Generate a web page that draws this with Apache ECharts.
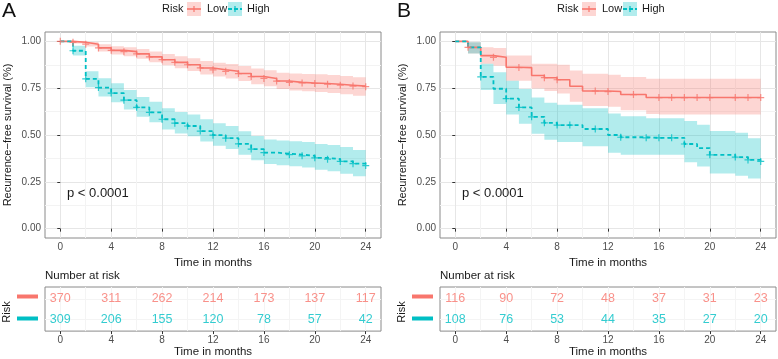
<!DOCTYPE html>
<html>
<head>
<meta charset="utf-8">
<script src="https://cdn.jsdelivr.net/npm/echarts@6/dist/echarts.min.js"></script>
<style>
html,body{margin:0;padding:0;background:#fff}
#main{width:778px;height:359px}
</style>
</head>
<body>
<div id="main"></div>
<script>
// ---- data ----
const months = [0,1,2,3,4,5,6,7,8,9,10,11,12,13,14,15,16,17,18,19,20,21,22,23,24];

// panel A
const lowSurvA  = [1,0.995,0.985,0.965,0.952,0.945,0.933,0.917,0.902,0.888,0.875,0.858,0.848,0.840,0.828,0.812,0.802,0.788,0.781,0.778,0.775,0.771,0.766,0.761,0.758];
const lowLowerA = [1,0.988,0.972,0.946,0.930,0.921,0.907,0.889,0.872,0.856,0.842,0.823,0.812,0.802,0.789,0.771,0.760,0.745,0.737,0.733,0.729,0.724,0.718,0.710,0.705];
const lowUpperA = [1,1.000,0.997,0.984,0.974,0.969,0.959,0.946,0.933,0.921,0.910,0.895,0.886,0.879,0.869,0.855,0.846,0.833,0.828,0.826,0.824,0.820,0.815,0.808,0.805];
const highSurvA  = [1,0.950,0.800,0.753,0.724,0.686,0.648,0.621,0.584,0.563,0.548,0.521,0.499,0.483,0.453,0.425,0.406,0.400,0.395,0.389,0.378,0.371,0.359,0.347,0.337];
const highLowerA = [1,0.925,0.755,0.706,0.675,0.636,0.597,0.568,0.530,0.508,0.493,0.465,0.442,0.425,0.394,0.365,0.345,0.338,0.333,0.326,0.314,0.306,0.293,0.280,0.274];
const highUpperA = [1,0.976,0.840,0.803,0.776,0.740,0.703,0.678,0.643,0.623,0.609,0.584,0.563,0.548,0.520,0.494,0.476,0.471,0.467,0.462,0.452,0.446,0.436,0.420,0.405];
const censorLowA  = [0,1,2,3,4,5,6,7,8,9,10,11,12,13,14,15,16,17,18,19,20,21,22,23,24];
const censorHighA = [1,2,3,4,5,6,7,8,9,10,11,12,13,14,15,16,18,19,20,21,22,23,24];

// panel B
const lowSurvB  = [1,0.968,0.924,0.915,0.862,0.860,0.818,0.806,0.795,0.760,0.735,0.735,0.732,0.716,0.716,0.700,0.700,0.700,0.700,0.700,0.700,0.700,0.700,0.700,0.700];
const lowLowerB = [1,0.935,0.880,0.870,0.790,0.790,0.748,0.735,0.722,0.677,0.655,0.655,0.651,0.632,0.632,0.612,0.610,0.610,0.610,0.610,0.610,0.610,0.610,0.610,0.610];
const lowUpperB = [1,0.995,0.968,0.965,0.924,0.924,0.880,0.880,0.875,0.845,0.827,0.827,0.822,0.810,0.810,0.800,0.800,0.800,0.800,0.800,0.800,0.800,0.800,0.800,0.800];
const highSurvB  = [1,0.968,0.810,0.747,0.694,0.647,0.597,0.565,0.553,0.553,0.532,0.532,0.500,0.488,0.488,0.485,0.485,0.485,0.452,0.430,0.394,0.394,0.382,0.367,0.359];
const highLowerB = [1,0.935,0.740,0.665,0.610,0.560,0.507,0.475,0.462,0.462,0.440,0.440,0.405,0.394,0.394,0.394,0.394,0.394,0.355,0.332,0.295,0.295,0.283,0.268,0.268];
const highUpperB = [1,0.995,0.880,0.835,0.790,0.745,0.700,0.672,0.662,0.662,0.643,0.643,0.615,0.600,0.600,0.590,0.590,0.590,0.575,0.555,0.522,0.522,0.512,0.482,0.482];
const censorLowB  = [1,3,5,7,8,11,12,14,16,17,18,19,20,22,23,24];
const censorHighB = [2,4,5,6,7,8,9,11,13,15,16,17,18,20,22,23,24];

// number at risk
const riskTimes  = [0,4,8,12,16,20,24];
const riskLowA   = [370,311,262,214,173,137,117];
const riskHighA  = [309,206,155,120,78,57,42];
const riskLowB   = [116,90,72,48,37,31,23];
const riskHighB  = [108,76,53,44,35,27,20];

const xMajor = [0,4,8,12,16,20,24];
const xMinor = [2,6,10,14,18,22];
const yMajor = [0,0.25,0.5,0.75,1];
const yMinor = [0.125,0.375,0.625,0.875];

// ---- styles ----
const RED = '#F8766D', CYAN = '#00BFC4';
const RED_FILL = 'rgba(248,118,109,0.3)', CYAN_FILL = 'rgba(0,191,196,0.3)';
const FONT = '"Liberation Sans", Arial, sans-serif';
const PLUS = 'path://M0,2.9h7v1.2h-7z M2.9,0h1.2v7h-1.2z';

const grids = [], xAxes = [], yAxes = [], series = [], graphics = [];

function stepData(surv) {
  return months.map((t, i) => [t, surv[i]]);
}
function bandRows(lo, hi) {
  return months.slice(0, -1).map((t, i) => [t, months[i + 1], lo[i], hi[i]]);
}
function censorData(times, surv) {
  return times.map(t => [t, surv[months.indexOf(t)]]);
}

function bandSeries(xi, yi, rows, color) {
  return {
    type: 'custom', xAxisIndex: xi, yAxisIndex: yi, silent: true, z: 1,
    data: rows, encode: {x: [0, 1], y: [2, 3]},
    renderItem: function (params, api) {
      if (params.dataIndex !== 0) return null;
      const top = [], bot = [];
      rows.forEach(r => {
        top.push(api.coord([r[0], r[3]]), api.coord([r[1], r[3]]));
        bot.push(api.coord([r[0], r[2]]), api.coord([r[1], r[2]]));
      });
      return {type: 'polygon', shape: {points: top.concat(bot.reverse())}, style: {fill: color}};
    }
  };
}

function xAxisMain(gi, isMinor, name, nameGap, faint) {
  return {
    type: 'value', gridIndex: gi, min: -1.2, max: 25.2,
    name: isMinor ? '' : name, nameLocation: 'middle', nameGap: nameGap,
    nameTextStyle: {fontSize: 11.5, color: '#1a1a1a', fontFamily: FONT},
    axisLine: {show: false},
    axisTick: {show: !isMinor, customValues: isMinor ? xMinor : xMajor, length: 3, lineStyle: {color: '#333'}},
    axisLabel: {show: !isMinor, customValues: xMajor, margin: 4, fontSize: 10, color: '#4d4d4d', fontFamily: FONT},
    splitLine: {show: true, lineStyle: {color: faint ? '#f4f4f4' : (isMinor ? '#f3f3f3' : '#e6e6e6'), width: 1}}
  };
}

function addPanel(p) {
  const g0 = grids.length;
  grids.push({left: p.left, top: 32, width: 336, height: 206, show: true, borderColor: '#8a8a8a', borderWidth: 1, backgroundColor: 'transparent'});
  grids.push({left: p.left, top: 287, width: 336, height: 49, show: true, borderColor: '#8a8a8a', borderWidth: 1, backgroundColor: 'transparent'});

  const xi = xAxes.length;
  xAxes.push(xAxisMain(g0, false, 'Time in months', 11));
  xAxes.push(xAxisMain(g0, true));
  xAxes.push(xAxisMain(g0 + 1, false, 'Time in months', 10, true));
  xAxes.push(xAxisMain(g0 + 1, true, '', 0, true));

  const yi = yAxes.length;
  yAxes.push({
    type: 'value', gridIndex: g0, min: -0.05, max: 1.05,
    name: 'Recurrence\u2212free survival (%)', nameLocation: 'middle', nameGap: 32,
    nameTextStyle: {fontSize: 11, color: '#1a1a1a', fontFamily: FONT},
    axisLine: {show: false},
    axisTick: {show: true, customValues: yMajor, length: 3, lineStyle: {color: '#333'}},
    axisLabel: {customValues: yMajor, margin: 4, fontSize: 10, color: '#4d4d4d', fontFamily: FONT,
      formatter: v => v.toFixed(2)},
    splitLine: {show: true, lineStyle: {color: '#e6e6e6'}}
  });
  yAxes.push({
    type: 'value', gridIndex: g0, min: -0.05, max: 1.05,
    axisLine: {show: false}, axisLabel: {show: false},
    axisTick: {show: false, customValues: yMinor},
    splitLine: {show: true, lineStyle: {color: '#f3f3f3'}}
  });
  yAxes.push({
    type: 'value', gridIndex: g0 + 1, min: 0.4, max: 2.6, inverse: true,
    axisLine: {show: false}, axisLabel: {show: false},
    axisTick: {show: false, customValues: [1, 2]},
    splitLine: {show: true, lineStyle: {color: '#f4f4f4'}}
  });

  series.push(bandSeries(xi, yi, bandRows(p.lowLo, p.lowHi), RED_FILL));
  series.push(bandSeries(xi, yi, bandRows(p.highLo, p.highHi), CYAN_FILL));
  series.push({
    type: 'line', xAxisIndex: xi, yAxisIndex: yi, step: 'end', symbol: 'none', silent: true, z: 3,
    data: stepData(p.lowS), lineStyle: {color: RED, width: 1.6}
  });
  series.push({
    type: 'line', xAxisIndex: xi, yAxisIndex: yi, step: 'end', symbol: 'none', silent: true, z: 3,
    data: stepData(p.highS), lineStyle: {color: CYAN, width: 1.8, type: [4, 3]}
  });
  series.push({
    type: 'scatter', xAxisIndex: xi, yAxisIndex: yi, symbol: PLUS, symbolSize: 7, silent: true, z: 4,
    data: censorData(p.cLow, p.lowS), itemStyle: {color: RED}
  });
  series.push({
    type: 'scatter', xAxisIndex: xi, yAxisIndex: yi, symbol: PLUS, symbolSize: 7, silent: true, z: 4,
    data: censorData(p.cHigh, p.highS), itemStyle: {color: CYAN}
  });
  [[p.riskLow, 1, RED], [p.riskHigh, 2, CYAN]].forEach(r => {
    series.push({
      type: 'scatter', xAxisIndex: xi + 2, yAxisIndex: yi + 2, symbolSize: 1, silent: true, z: 5,
      itemStyle: {color: 'transparent'},
      data: riskTimes.map((t, i) => [t, r[1], r[0][i]]),
      label: {show: true, position: 'inside', formatter: pr => pr.value[2],
        color: r[2], fontSize: 12.5, fontFamily: FONT}
    });
  });

  // panel letter, legend, p value, table captions
  const L = p.left, lx = p.legendX;
  const txt = (x, y, text, size, color) => ({
    type: 'text', x: x, y: y, silent: true, z: 100,
    style: {text: text, fontSize: size, fontFamily: FONT, fill: color || '#1a1a1a', verticalAlign: 'middle'}
  });
  const shape = (type, sh, style) => ({type: type, shape: sh, style: style, silent: true, z: 100});
  graphics.push(txt(p.left - 43, 11, p.letter, 21, '#111'));
  graphics.push(txt(lx, 9, 'Risk', 11));
  graphics.push(shape('rect', {x: lx + 25, y: 2, width: 14, height: 14}, {fill: RED_FILL}));
  graphics.push(shape('line', {x1: lx + 25, y1: 9, x2: lx + 39, y2: 9}, {stroke: RED, lineWidth: 1.6}));
  graphics.push(shape('line', {x1: lx + 32, y1: 6, x2: lx + 32, y2: 12}, {stroke: RED, lineWidth: 1.2}));
  graphics.push(txt(lx + 45, 9, 'Low', 11));
  graphics.push(shape('rect', {x: lx + 66, y: 2, width: 14, height: 14}, {fill: CYAN_FILL}));
  graphics.push(shape('line', {x1: lx + 66, y1: 9, x2: lx + 80, y2: 9}, {stroke: CYAN, lineWidth: 1.8, lineDash: [4, 2]}));
  graphics.push(shape('line', {x1: lx + 73, y1: 6, x2: lx + 73, y2: 12}, {stroke: CYAN, lineWidth: 1.2}));
  graphics.push(txt(lx + 85, 9, 'High', 11));
  graphics.push(txt(L + 22, 193, 'p < 0.0001', 13));
  graphics.push(txt(L, 276, 'Number at risk', 11.5));
  graphics.push(shape('rect', {x: L - 28, y: 294.5, width: 21, height: 4}, {fill: RED}));
  graphics.push(shape('rect', {x: L - 28, y: 316.5, width: 21, height: 4}, {fill: CYAN}));
  graphics.push({
    type: 'text', x: L - 38, y: 312, rotation: Math.PI / 2, silent: true, z: 100,
    style: {text: 'Risk', fontSize: 11, fontFamily: FONT, fill: '#1a1a1a', align: 'center', verticalAlign: 'middle'}
  });
}

addPanel({
  letter: 'A', left: 45, legendX: 162,
  lowS: lowSurvA, lowLo: lowLowerA, lowHi: lowUpperA,
  highS: highSurvA, highLo: highLowerA, highHi: highUpperA,
  cLow: censorLowA, cHigh: censorHighA, riskLow: riskLowA, riskHigh: riskHighA
});
addPanel({
  letter: 'B', left: 440, legendX: 557,
  lowS: lowSurvB, lowLo: lowLowerB, lowHi: lowUpperB,
  highS: highSurvB, highLo: highLowerB, highHi: highUpperB,
  cLow: censorLowB, cHigh: censorHighB, riskLow: riskLowB, riskHigh: riskHighB
});

const chart = echarts.init(document.getElementById('main'));
chart.setOption({
  animation: false,
  backgroundColor: '#fff',
  textStyle: {fontFamily: FONT},
  grid: grids,
  xAxis: xAxes,
  yAxis: yAxes,
  series: series,
  graphic: graphics
});
</script>
</body>
</html>
